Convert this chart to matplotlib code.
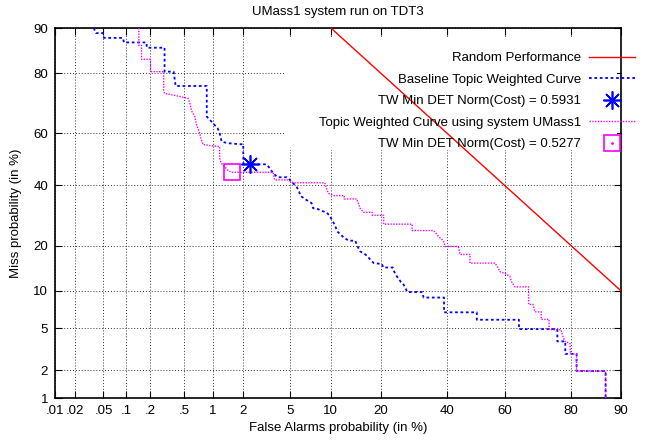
import numpy as np
import matplotlib
matplotlib.use('Agg')
import matplotlib.pyplot as plt
from matplotlib.lines import Line2D
from matplotlib.patches import Rectangle
from matplotlib.legend_handler import HandlerTuple
from statistics import NormalDist

# DET curve data (probabilities in %)
baseline_fa = [0.0368, 0.0393, 0.049, 0.0509, 0.0907, 0.0936, 0.180, 0.182, 0.297, 0.297,
               0.378, 0.399, 0.870, 0.870, 1.007, 1.127, 1.178, 1.233, 1.411, 1.848,
               1.99, 1.99, 2.0, 3.21, 3.42, 3.65, 3.99, 4.74, 5.01, 5.26,
               5.65, 5.91, 6.06, 6.73, 7.32, 7.52, 8.15, 8.61, 9.34, 9.9,
               10.14, 10.56, 11.04, 11.64, 12.23, 13.08, 14.33, 14.64, 15.3, 16.44,
               17.58, 18.33, 20.3, 20.67, 23.1, 23.5, 24.0, 24.5, 25.4, 25.9,
               27.25, 31.7, 32.2, 38.9, 38.9, 50.3, 50.3, 64.8, 64.8, 76.4,
               76.4, 78.5, 78.5, 81.3, 81.3, 87.4, 87.4]
baseline_miss = [90, 89.1, 89.1, 88.2, 88.2, 87.3, 87.3, 86.2, 86.2, 80.4,
                 80.4, 76.3, 76.3, 66.2, 63.8, 61.9, 60.1, 56.9, 56.3, 55.9,
                 55.9, 52.4, 48.1, 48.1, 46.6, 44.7, 43.1, 43.1, 42.1, 41.0,
                 39.5, 37.7, 36.1, 34.6, 33.5, 31.7, 31.4, 30.8, 30.3, 28.9,
                 27.8, 26.4, 24.1, 23.1, 22.2, 21.4, 21.4, 20.2, 18.5, 17.7,
                 16.4, 15.6, 15.4, 14.6, 14.6, 13.7, 13.0, 12.4, 11.6, 11.4,
                 9.8, 9.8, 8.9, 8.9, 6.8, 6.8, 5.9, 5.9, 4.9, 4.9,
                 3.8, 3.8, 2.9, 2.9, 1.95, 1.95, 0.5]

umass_fa = [0.1447, 0.1447, 0.1565, 0.1565, 0.2017, 0.2017, 0.290, 0.290, 0.297, 0.371,
            0.465, 0.550, 0.574, 0.602, 0.648, 0.676, 0.732, 0.764, 0.794, 0.936,
            1.178, 1.178, 1.219, 1.319, 1.41, 1.534, 3.65, 3.77, 4.86, 5.32,
            9.09, 9.34, 9.59, 10.43, 12.23, 12.23, 14.64, 14.93, 15.3, 16.05,
            17.97, 17.97, 20.75, 20.75, 28.64, 28.64, 35.4, 37.1, 38.7, 39.25,
            43.85, 44.4, 47.9, 47.9, 56.7, 57.8, 58.4, 60.1, 61.8, 62.3,
            63.4, 67.9, 67.9, 69.3, 69.9, 71.8, 71.8, 74.1, 74.1, 77.35,
            77.8, 78.3, 79.7, 79.8, 81.3, 81.3, 87.4, 87.4]
umass_miss = [90, 86.7, 86.7, 83.55, 83.55, 80.4, 80.4, 75.1, 74.0, 73.5,
              72.9, 72.4, 70.8, 68.1, 66.4, 63.5, 60.1, 57.5, 55.8, 55.4,
              55.0, 50.5, 48.5, 47.2, 45.9, 45.0, 45.0, 42.1, 42.1, 41.0,
              41.0, 38.9, 37.1, 36.2, 36.2, 35.0, 35.0, 33.5, 31.7, 30.3,
              30.3, 29.3, 29.3, 26.4, 26.4, 24.4, 24.4, 22.6, 21.4, 19.8,
              19.8, 17.7, 17.7, 15.6, 15.6, 14.45, 13.7, 13.3, 12.7, 11.7,
              10.7, 10.7, 7.87, 7.87, 6.86, 6.86, 5.94, 5.94, 4.85, 4.85,
              4.33, 3.82, 3.64, 2.89, 2.89, 1.95, 1.95, 0.5]

random_fa = [10, 90]
random_miss = [90, 10]

baseline_min_fa, baseline_min_miss = 2.29, 48.1
umass_min_fa, umass_min_miss = 1.54, 45.0

xticks = [0.01, 0.02, 0.05, 0.1, 0.2, 0.5, 1, 2, 5, 10, 20, 40, 60, 80, 90]
xticklabels = ['.01', '.02', '.05', '.1', '.2', '.5', '1', '2', '5', '10', '20', '40', '60', '80', '90']
yticks = [1, 2, 5, 10, 20, 40, 60, 80, 90]
yticklabels = ['1', '2', '5', '10', '20', '40', '60', '80', '90']

# normal deviate scale
_nd = NormalDist()
_ppf = np.vectorize(_nd.inv_cdf, otypes=[float])
_cdf = np.vectorize(_nd.cdf, otypes=[float])


def probit(p):
    p = np.clip(np.asarray(p, dtype=float) / 100.0, 1e-12, 1 - 1e-12)
    return _ppf(p)


def inv_probit(z):
    return _cdf(np.asarray(z, dtype=float)) * 100.0


plt.rcParams['font.family'] = ['Liberation Sans', 'DejaVu Sans']
plt.rcParams['font.size'] = 9.5

fig = plt.figure(figsize=(6.49, 4.42), dpi=100)
ax = fig.add_axes([55 / 649, 44 / 442, 566 / 649, 370 / 442])
ax.set_xscale('function', functions=(probit, inv_probit))
ax.set_yscale('function', functions=(probit, inv_probit))
ax.set_xlim(0.01, 90)
ax.set_ylim(1, 90)

ax.set_xticks(xticks)
ax.set_xticklabels(xticklabels)
ax.set_yticks(yticks)
ax.set_yticklabels(yticklabels)
ax.minorticks_off()
ax.tick_params(direction='in', length=5, width=0.8, top=True, right=True, pad=5)
ax.set_axisbelow(True)
ax.grid(True, color='black', linestyle=(0, (1, 2)), linewidth=0.7, alpha=0.8)
for s in ax.spines.values():
    s.set_linewidth(1.2)

# blank area behind the key
ax.add_patch(Rectangle((0.406, 0.67), 0.587, 0.306, transform=ax.transAxes,
                       facecolor='white', edgecolor='none', zorder=1))

ax.plot(random_fa, random_miss, color='#ff0000', linewidth=1.0, zorder=3)
ax.plot(baseline_fa, baseline_miss, color='#0000ff', linewidth=1.3,
        linestyle=(0, (1.5, 1.5)), zorder=3)
ax.plot(umass_fa, umass_miss, color='#ff00ff', linewidth=1.0,
        linestyle=(0, (1, 1)), zorder=3)
ax.plot([baseline_min_fa], [baseline_min_miss], linestyle='none', marker=(8, 2, 0),
        markersize=13, markeredgewidth=1.2, color='#0000ff', zorder=4)
ax.plot([umass_min_fa], [umass_min_miss], linestyle='none', marker='s',
        markersize=12, markerfacecolor='none', markeredgewidth=1.2,
        markeredgecolor='#ff00ff', zorder=4)

h_random = Line2D([], [], color='#ff0000', linewidth=1.0)
h_base = Line2D([], [], color='#0000ff', linewidth=1.3, linestyle=(0, (1.5, 1.5)))
h_base_min = Line2D([], [], linestyle='none', marker=(8, 2, 0), markersize=13,
                    markeredgewidth=1.2, color='#0000ff')
h_umass = Line2D([], [], color='#ff00ff', linewidth=1.0, linestyle=(0, (1, 1)))
h_umass_sq = Line2D([], [], linestyle='none', marker='s', markersize=12,
                    markerfacecolor='none', markeredgewidth=1.2, markeredgecolor='#ff00ff')
h_umass_dot = Line2D([], [], linestyle='none', marker='.', markersize=2, color='#ff00ff')

leg = ax.legend([h_random, h_base, h_base_min, h_umass, (h_umass_sq, h_umass_dot)],
                ['Random Performance', 'Baseline Topic Weighted Curve',
                 'TW Min DET Norm(Cost) = 0.5931',
                 'Topic Weighted Curve using system UMass1',
                 'TW Min DET Norm(Cost) = 0.5277'],
                handler_map={tuple: HandlerTuple(ndivide=1)},
                loc='upper right', bbox_to_anchor=(1.025, 0.935), frameon=False,
                markerfirst=False, handlelength=3.5, handletextpad=0.6,
                labelspacing=0.7, borderpad=0, borderaxespad=0, numpoints=1)
leg.set_zorder(5)

ax.set_title('UMass1 system run on TDT3', fontsize=9.5, pad=9)
ax.set_xlabel('False Alarms probability (in %)', labelpad=4)
ax.set_ylabel('Miss probability (in %)', labelpad=8)

fig.savefig('out.png', dpi=100)
